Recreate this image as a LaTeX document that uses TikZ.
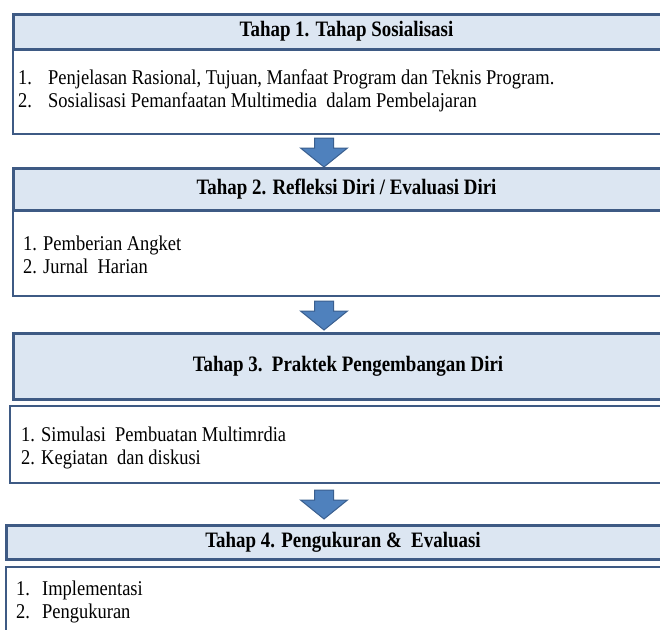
\documentclass[tikz,border=0pt]{standalone}
\usepackage{fontspec}
\setmainfont{Liberation Serif}
\newfontfamily\titlefam[FakeStretch=0.86]{Liberation Serif}
\newfontfamily\bodyfam[FakeStretch=0.88]{Liberation Serif}
\usetikzlibrary{calc}
\definecolor{bordc}{HTML}{3E5A84}
\definecolor{hdrfill}{HTML}{DCE6F2}
\definecolor{arrfill}{HTML}{4F81BD}
\definecolor{arrline}{HTML}{3A5F8F}
\newcommand{\hdrfont}{\titlefam\fontsize{22}{25}\selectfont\bfseries}
\newcommand{\itemfont}{\bodyfam\fontsize{21}{24}\selectfont}
\tikzset{
  hdr/.style={draw=bordc, fill=hdrfill, line width=3pt, font=\hdrfont, inner sep=0pt},
  bodybox/.style={draw=bordc, fill=white, line width=2.5pt, inner sep=0pt},
  item/.style={anchor=base west, font=\itemfont, inner sep=0pt},
  blockarrow/.style={fill=arrfill, draw=arrline, line width=1pt, line join=miter}
}
\newcommand{\blockarrowat}[1]{%
  \draw[blockarrow] ($(#1)+(-9.5,0)$) -- ++(19,0) -- ++(0,10) -- ++(14,0) --
    ($(#1)+(0,29)$) -- ++(-23.5,-19) -- ++(14,0) -- cycle;}
\begin{document}
\begin{tikzpicture}[x=1pt,y=-1pt]
\useasboundingbox (0,0) rectangle (660,629);
% Box 1
\node[bodybox, minimum width=667pt, minimum height=85pt] (b1) at (346.5,91.5) {};
\node[hdr, minimum width=667pt, minimum height=35pt] (h1) at (346.5,31.5) {Tahap 1. Tahap Sosialisasi};
\node[item] (t11) at (18,84) {\makebox[30pt][l]{1.}Penjelasan\ Rasional, Tujuan, Manfaat Program dan Teknis Program.};
\node[item] (t12) at (18,107) {\makebox[30pt][l]{2.}Sosialisasi Pemanfaatan Multimedia\ \ dalam Pembelajaran};
% arrow 1
\coordinate (a1) at (324,138);
\blockarrowat{a1}
% Box 2
\node[bodybox, minimum width=667pt, minimum height=86pt] (b2) at (346.5,253) {};
\node[hdr, minimum width=667pt, minimum height=42pt] (h2) at (346.5,189) {Tahap 2. Refleksi Diri / Evaluasi Diri};
\node[item] (t21) at (23,250) {1. Pemberian Angket};
\node[item] (t22) at (23,273) {2. Jurnal\ \ Harian};
% arrow 2
\coordinate (a2) at (324,301);
\blockarrowat{a2}
% Box 3
\node[hdr, minimum width=670pt, minimum height=66pt] (h3) at (348,366) {Tahap 3.\ \ Praktek Pengembangan Diri};
\node[bodybox, minimum width=670pt, minimum height=77pt] (b3) at (345,444.5) {};
\node[item] (t31) at (21,441) {1. Simulasi\ \ Pembuatan Multimrdia};
\node[item] (t32) at (21,464) {2. Kegiatan\ \ dan diskusi};
% arrow 3
\coordinate (a3) at (324,490);
\blockarrowat{a3}
% Box 4
\node[hdr, minimum width=674pt, minimum height=34pt] (h4) at (343,542) {Tahap 4. Pengukuran \&\ \ Evaluasi};
\node[bodybox, minimum width=674pt, minimum height=90pt] (b4) at (343,612) {};
\node[item] (t41) at (16,595) {\makebox[26pt][l]{1.}Implementasi};
\node[item] (t42) at (16,618) {\makebox[26pt][l]{2.}Pengukuran};
\end{tikzpicture}
\end{document}
